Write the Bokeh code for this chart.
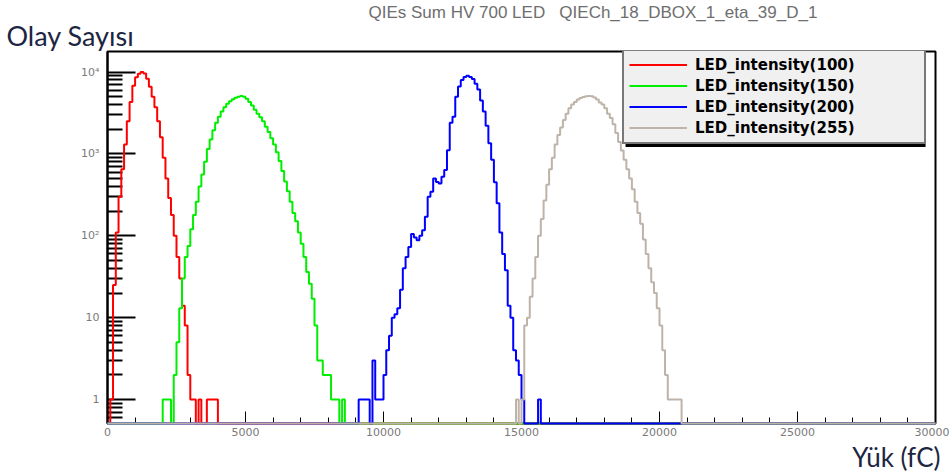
import numpy as np
from bokeh.plotting import figure
from bokeh.models import Range1d, FixedTicker, Legend, LegendItem, Title, BoxAnnotation
from bokeh.embed import file_html
from bokeh.resources import INLINE

# ---------------- data (100 fC bins) ----------------
bin_width = 100
x_min, x_max = 0, 30000

series_labels = ["LED_intensity(100)", "LED_intensity(150)",
                 "LED_intensity(200)", "LED_intensity(255)"]
series_colors = ["#ff0000", "#00ee00", "#0000ff", "#bdb3a9"]

red_start = 0
red_counts = [0, 1, 25, 110, 300, 650, 1300, 2500, 4300, 6800,
              8600, 9500, 10000, 9600, 8300, 6600, 5000, 3700, 2500, 1600,
              900, 500, 290, 180, 100, 55, 30, 14, 8, 2,
              1, 1, 0, 1, 0, 0, 1, 1, 1, 1]

green_start = 2000
green_counts = [1, 1, 1, 0, 2, 5, 13, 30, 55, 75,
                120, 180, 260, 400, 560, 800, 1150, 1500, 1950, 2400,
                2850, 3300, 3700, 4100, 4400, 4650, 4850, 5000, 5100, 5000,
                4700, 4300, 3900, 3450, 3100, 2800, 2500, 2150, 1850, 1550,
                1300, 1050, 820, 620, 460, 350, 260, 190, 150, 110,
                80, 55, 36, 26, 17, 8, 3, 3, 2, 2,
                2, 1, 1, 1, 0, 1]

blue_start = 9100
blue_counts = [1, 1, 1, 1, 0, 3, 1, 1, 1, 2,
               4, 6, 10, 11, 13, 22, 40, 55, 73, 105,
               95, 88, 100, 117, 171, 300, 345, 500, 455, 435,
               526, 635, 1110, 2400, 2850, 5000, 6650, 8000, 8700, 9000,
               8700, 8200, 7200, 6100, 4500, 3300, 2200, 1350, 850, 450,
               250, 110, 60, 38, 14, 10, 4, 3, 2, 1,
               0, 0, 0, 0, 0, 1]

gray_start = 14800
gray_counts = [1, 0, 1, 8, 10, 18, 30, 55, 100, 160,
               270, 420, 650, 900, 1300, 1700, 2100, 2600, 3100, 3600,
               4000, 4300, 4600, 4800, 4950, 5050, 5100, 5050, 4900, 4600,
               4250, 4000, 3600, 3100, 2750, 2300, 1800, 1400, 1100, 850,
               650, 500, 370, 260, 190, 140, 90, 60, 40, 27,
               20, 13, 8, 4, 2, 1, 1, 1, 1, 1]

x_major_ticks = [0, 5000, 10000, 15000, 20000, 25000, 30000]
y_major_ticks = [1, 10, 100, 1000, 10000]
y_tick_text = {1: "1", 10: "10", 100: "10\u00b2", 1000: "10\u00b3", 10000: "10\u2074"}

title_text = "QIEs Sum HV 700 LED\u00a0\u00a0 QIECh_18_DBOX_1_eta_39_D_1"
y_title_text = "Olay Sayısı"
x_title_text = "Yük (fC)"

# ---------------- figure ----------------
y_start, y_end = 0.51, 17800

p = figure(width=949, height=476, output_backend="svg", toolbar_location=None,
           y_axis_type="log",
           x_range=Range1d(x_min, x_max), y_range=Range1d(y_start, y_end),
           min_border_left=107, min_border_right=14,
           min_border_top=51, min_border_bottom=53,
           background_fill_color="white", border_fill_color="white")

p.xgrid.grid_line_color = None
p.ygrid.grid_line_color = None
p.outline_line_color = "black"
p.outline_line_width = 2

edges = np.arange(x_min, x_max + bin_width, bin_width)
nbins = len(edges) - 1

renderers = []
for start, counts, color in [(red_start, red_counts, series_colors[0]),
                             (green_start, green_counts, series_colors[1]),
                             (blue_start, blue_counts, series_colors[2]),
                             (gray_start, gray_counts, series_colors[3])]:
    full = np.zeros(nbins)
    i0 = start // bin_width
    full[i0:i0 + len(counts)] = counts
    yy = np.where(full > 0, full, y_start)
    yy = np.append(yy, yy[-1])
    r = p.step(edges, yy, mode="after", line_color=color, line_width=2,
               level="overlay")
    renderers.append(r)

# axes
p.xaxis.ticker = FixedTicker(ticks=x_major_ticks,
                             minor_ticks=list(range(x_min, x_max + 1, 1000)))
p.xaxis.major_tick_in = 12
p.xaxis.major_tick_out = 0
p.xaxis.minor_tick_in = 6
p.xaxis.minor_tick_out = 0
p.xaxis.major_tick_line_color = "black"
p.xaxis.minor_tick_line_color = "black"
p.xaxis.axis_line_color = "#c8c0b8"
p.xaxis.axis_line_width = 2
p.xaxis.major_label_text_font = "DejaVu Sans"
p.xaxis.major_label_text_font_size = "11px"
p.xaxis.major_label_text_color = "#7a7a7a"
p.xaxis.major_label_standoff = 4

minor_y = []
for dec in [0.1, 1, 10, 100, 1000]:
    for k in range(2, 10):
        minor_y.append(dec * k)
p.yaxis.ticker = FixedTicker(ticks=y_major_ticks, minor_ticks=minor_y)
p.yaxis.major_label_overrides = y_tick_text
p.yaxis.major_tick_in = 28
p.yaxis.major_tick_out = 0
p.yaxis.minor_tick_in = 15
p.yaxis.minor_tick_out = 0
p.yaxis.major_tick_line_color = "black"
p.yaxis.minor_tick_line_color = "black"
p.yaxis.major_tick_line_width = 2
p.yaxis.minor_tick_line_width = 2
p.yaxis.axis_line_color = "black"
p.yaxis.axis_line_width = 2
p.yaxis.major_label_text_font = "DejaVu Sans"
p.yaxis.major_label_text_font_size = "11px"
p.yaxis.major_label_text_color = "#7a7a7a"
p.yaxis.major_label_standoff = 8

# titles: main title outermost, "Olay Sayısı" right above the frame
p.title.text = title_text
p.title.align = "left"
p.title.offset = 261
p.title.text_font = "Liberation Sans"
p.title.text_font_size = "17px"
p.title.text_font_style = "normal"
p.title.text_color = "#6e6e6e"
p.title.standoff = -10

y_title = Title(text=y_title_text, align="left", offset=-101, text_font="Lato",
                text_font_size="27px", text_font_style="normal",
                text_color="#1c2541", standoff=0)
p.add_layout(y_title, "above")

x_title = Title(text=x_title_text, align="right", offset=-5, text_font="Lato",
                text_font_size="26px", text_font_style="normal",
                text_color="#1c2541", standoff=0)
p.add_layout(x_title, "below")

# legend shadow (ROOT style) and legend
shadow = BoxAnnotation(left=18770, right=29640, top=16200, bottom=1215,
                       fill_color="black", fill_alpha=1.0, line_color=None)
p.add_layout(shadow)

legend = Legend(items=[LegendItem(label=lab, renderers=[r])
                       for lab, r in zip(series_labels, renderers)],
                location=(515, 279), orientation="vertical",
                background_fill_color="#f0f0f0", background_fill_alpha=1.0,
                border_line_color="black", border_line_width=2,
                label_text_font="DejaVu Sans", label_text_font_style="bold",
                label_text_font_size="15px", label_text_color="black",
                glyph_width=58, glyph_height=19, label_height=19,
                label_width=224, label_standoff=8, spacing=2, padding=5,
                margin=0)
p.add_layout(legend, "center")

open("out.html", "w").write(file_html(p, INLINE))
